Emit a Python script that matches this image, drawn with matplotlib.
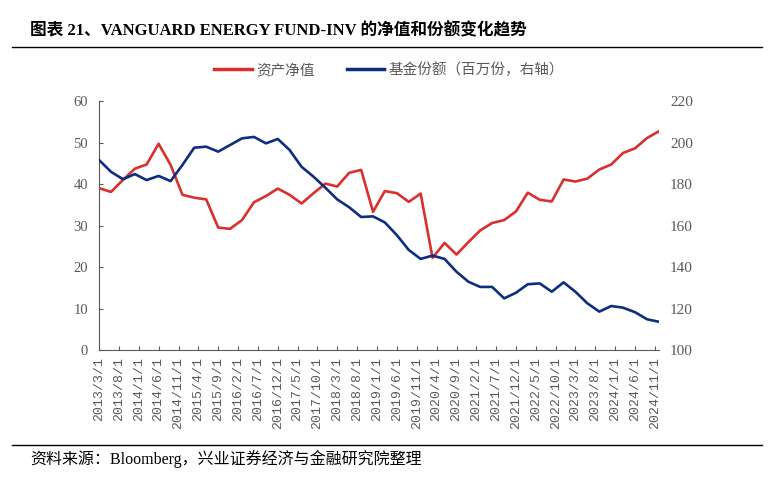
import numpy as np
import pandas as pd
import matplotlib
matplotlib.use("Agg")
import matplotlib.pyplot as plt
from matplotlib.lines import Line2D

plt.rcParams['font.family'] = ['Liberation Serif', 'Noto Sans CJK SC', 'DejaVu Sans']

# 季度数据：2013/3 起，每 3 个月一个点
dates = pd.date_range('2013-03-01', periods=48, freq='3MS')

nav = [39.0, 38.1, 41.0, 43.7, 44.7, 49.7, 44.6, 37.4, 36.7, 36.3, 29.5, 29.2,
       31.3, 35.6, 37.1, 38.9, 37.4, 35.3, 37.8, 40.1, 39.4, 42.7, 43.4, 33.3,
       38.3, 37.8, 35.7, 37.7, 22.2, 25.8, 23.0, 26.0, 28.8, 30.6, 31.3, 33.4,
       37.9, 36.2, 35.8, 41.1, 40.6, 41.3, 43.5, 44.7, 47.5, 48.6, 51.1, 52.7]

shares = [191.6, 185.9, 182.3, 184.8, 181.9, 183.9, 181.4, 189.2, 197.5, 198.0, 195.6, 198.8,
          202.0, 202.7, 199.6, 201.7, 196.4, 188.3, 183.5, 178.2, 172.6, 168.8, 164.1, 164.4,
          161.5, 155.4, 148.2, 143.9, 145.5, 143.9, 137.7, 132.9, 130.4, 130.4, 124.9, 127.6,
          131.7, 132.1, 128.1, 132.6, 128.1, 122.5, 118.5, 121.2, 120.4, 118.2, 114.8, 113.6]

tick_labels = ['2013/3/1', '2013/8/1', '2014/1/1', '2014/6/1', '2014/11/1', '2015/4/1',
               '2015/9/1', '2016/2/1', '2016/7/1', '2016/12/1', '2017/5/1', '2017/10/1',
               '2018/3/1', '2018/8/1', '2019/1/1', '2019/6/1', '2019/11/1', '2020/4/1',
               '2020/9/1', '2021/2/1', '2021/7/1', '2021/12/1', '2022/5/1', '2022/10/1',
               '2023/3/1', '2023/8/1', '2024/1/1', '2024/6/1', '2024/11/1']

red = '#D9302E'
navy = '#0D2D7E'
grey = '#595959'

fig = plt.figure(figsize=(7.77, 4.79), dpi=100)
ax = fig.add_axes([0.1274, 0.2693, 0.7207, 0.5198])
ax2 = ax.twinx()

ax.plot(dates, nav, color=red, lw=1.9, zorder=3)
ax2.plot(dates, shares, color=navy, lw=1.9, zorder=2)

tick_pos = pd.to_datetime(tick_labels, format='%Y/%m/%d')
ax.set_xticks(tick_pos)
ax.set_xticklabels(tick_labels, rotation=90, fontsize=9.5, color=grey,
                   family=['Liberation Mono', 'DejaVu Sans Mono'])
ax.set_xlim(dates[0], dates[-1])

ax.set_ylim(0, 60)
ax.set_yticks(range(0, 61, 10))
ax2.set_ylim(100, 220)
ax2.set_yticks(range(100, 221, 20))

ax.tick_params(axis='y', direction='in', length=3, labelsize=10.5, labelcolor=grey, color=grey, pad=8)
ax.tick_params(axis='x', direction='in', length=3, color=grey, pad=5)
ax2.tick_params(axis='y', length=0, labelsize=11, labelcolor=grey, pad=8)

for a in (ax, ax2):
    a.spines['top'].set_visible(False)
    a.spines['right'].set_visible(False)
ax2.spines['left'].set_visible(False)
ax2.spines['bottom'].set_visible(False)
ax.spines['left'].set_color(grey)
ax.spines['bottom'].set_color(grey)

# 标题与分隔线
fig.text(30 / 777, 1 - 31 / 479, '图表 21、VANGUARD ENERGY FUND-INV 的净值和份额变化趋势',
         fontsize=12, fontweight='bold', va='center', ha='left', color='black')
fig.add_artist(Line2D([12 / 777, 762 / 777], [1 - 47 / 479, 1 - 47 / 479], color='black', lw=1.0))
fig.add_artist(Line2D([12 / 777, 762 / 777], [1 - 445 / 479, 1 - 445 / 479], color='black', lw=1.0))
fig.text(30 / 777, 1 - 459 / 479, '资料来源：Bloomberg，兴业证券经济与金融研究院整理',
         fontsize=11.5, va='center', ha='left', color='black')

handles = [Line2D([], [], color=red, lw=2.5), Line2D([], [], color=navy, lw=2.5)]
fig.legend(handles, ['资产净值', '基金份额（百万份，右轴）'], loc='center',
           bbox_to_anchor=(389 / 777, 1 - 70 / 479), ncol=2, frameon=False,
           fontsize=10.5, handlelength=2.6, columnspacing=2.2, handletextpad=0.3,
           labelcolor=grey)

fig.savefig('out.png', dpi=100)
